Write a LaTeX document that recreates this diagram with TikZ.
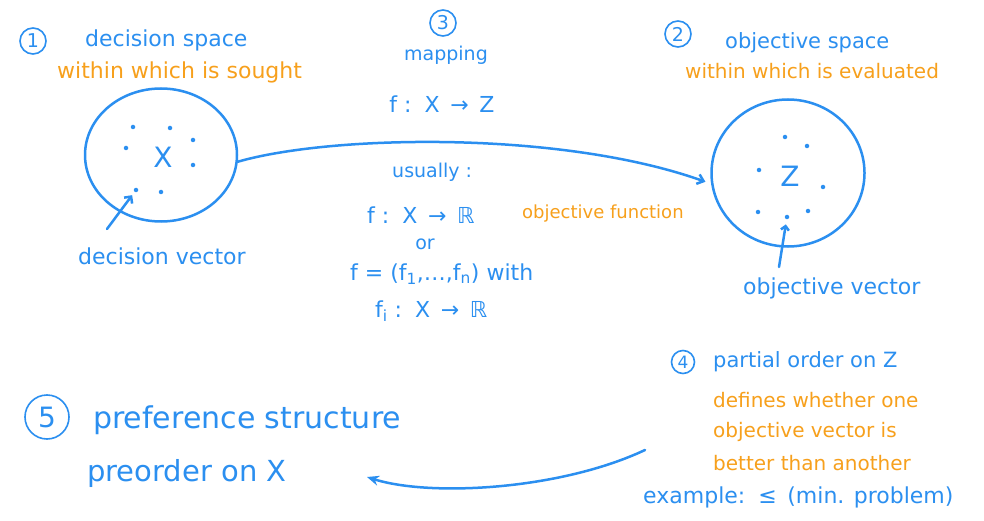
\documentclass[tikz,border=0pt]{standalone}
\usepackage{fontspec}
\setmainfont{DejaVu Sans}
\usetikzlibrary{arrows.meta,shapes.geometric}
\definecolor{inkblue}{RGB}{43,143,240}
\definecolor{inkorange}{RGB}{247,160,28}
\newcommand{\hand}[1]{\fontsize{#1}{#1}\selectfont}

\begin{document}
\begin{tikzpicture}[x=1pt,y=-1pt,
    ink/.style={text=inkblue, anchor=west, inner sep=0pt},
    note/.style={text=inkorange, anchor=west, inner sep=0pt},
    num/.style={draw=inkblue, text=inkblue, circle, line width=1.6pt, inner sep=0pt, minimum size=26pt, font=\hand{19}},
    pen/.style={draw=inkblue, line width=2.5pt, line cap=round},
    dot/.style={fill=inkblue, circle, inner sep=0pt, minimum size=4.5pt}]
    \useasboundingbox[fill=white] (0,0) rectangle (984,521);
    % decision space
    \node[num] (n1) at (33,41) {1};
    \node[ink, font=\hand{22}] (dtitle) at (85,40) {decision space};
    \node[note, font=\hand{22}] (dsought) at (57,72) {within which is sought};
    \node[pen, ellipse, minimum width=152pt, minimum height=133pt] (dspace) at (161,155) {};
    \node[ink, anchor=center, font=\hand{28}] (xlab) at (163,157) {X};
    \foreach \p [count=\i] in {(133,127),(170,128),(193,140),(126,148),(193,165),(136,190),(161,192)}
        \node[dot] (xd\i) at \p {};
    \coordinate (dtail) at (107,229);
    \draw[pen, -{Straight Barb[length=5pt]}, shorten >=4pt] (dtail) -- (xd6);
    \node[ink, font=\hand{22}] (dvec) at (78,256) {decision vector};
    % mapping
    \node[num] (n3) at (443,23) {3};
    \node[ink, anchor=center, font=\hand{19}] (map) at (446,55) {mapping};
    \node[ink, anchor=center, font=\hand{22}] (fxz) at (442,104) {f :\, X \,→\, Z};
    \node[ink, font=\hand{19}] (usual) at (392,172) {usually :};
    \node[ink, font=\hand{22}] (fxr) at (367,215) {f :\, X \,→\, ℝ};
    \node[note, font=\hand{18}] (objf) at (522,214) {objective function};
    \node[ink, anchor=center, font=\hand{19}] (orr) at (425,244) {or};
    \node[ink, font=\hand{22}] (fvec) at (350,274) {f = (f\textsubscript{1},…,f\textsubscript{n}) with};
    \node[ink, font=\hand{22}] (fi) at (375,311) {f\textsubscript{i} :\, X \,→\, ℝ};
    % objective space
    \node[num] (n2) at (678,34) {2};
    \node[ink, font=\hand{21}] (otitle) at (725,43) {objective space};
    \node[note, font=\hand{20}] (oeval) at (685,71) {within which is evaluated};
    \node[pen, ellipse, minimum width=153pt, minimum height=147pt] (ospace) at (788,173) {};
    \node[ink, anchor=center, font=\hand{28}] (zlab) at (790,176) {Z};
    \foreach \p [count=\i] in {(785,137),(807,146),(759,170),(823,187),(758,212),(787,217),(808,211)}
        \node[dot] (zd\i) at \p {};
    \coordinate (otail) at (779,267);
    \draw[pen, -{Straight Barb[length=4pt]}, shorten >=5pt] (otail) -- (zd6);
    \node[ink, font=\hand{22}] (ovec) at (743,288) {objective vector};
    % the mapping arrow
    \draw[pen, -{Straight Barb[length=6pt,width=10pt]}, shorten >=6pt] (dspace.-5) .. controls (330,135) and (560,130) .. (ospace.188);
    % partial order
    \node[num, minimum size=23pt, font=\hand{17}] (n4) at (683,362) {4};
    \node[ink, font=\hand{21}] (porder) at (713,362) {partial order on Z};
    \node[note, font=\hand{20}] (pline1) at (713,400) {defines whether one};
    \node[note, font=\hand{20}] (pline2) at (713,432) {objective vector is};
    \node[note, font=\hand{20}] (pline3) at (713,463) {better than another};
    \node[ink, font=\hand{22}] (pex) at (643,497) {example:\, ≤\, (min. problem)};
    % preference structure
    \node[num, minimum size=44pt, font=\hand{28}] (n5) at (47,417) {5};
    \node[ink, font=\hand{30}] (pref) at (93,420) {preference structure};
    \node[ink, font=\hand{29}] (preo) at (87,473) {preorder on X};
    \coordinate (pstart) at (645,450);
    \coordinate (pend) at (367,477);
    \draw[pen, -{Stealth[length=12pt,width=10pt]}] (pstart) .. controls (560,490) and (430,497) .. (pend);
\end{tikzpicture}
\end{document}
